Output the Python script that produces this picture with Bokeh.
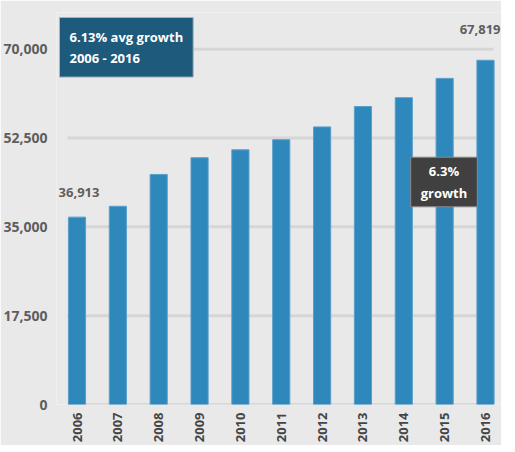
from bokeh.plotting import figure
from bokeh.models import Range1d, Label, FixedTicker, NumeralTickFormatter, ColumnDataSource
from bokeh.embed import file_html
from bokeh.resources import INLINE

years = ["2006", "2007", "2008", "2009", "2010", "2011", "2012", "2013", "2014", "2015", "2016"]
values = [36913, 39050, 45330, 48620, 50180, 52170, 54690, 58710, 60450, 64250, 67819]
y_ticks = [0, 17500, 35000, 52500, 70000]

BG = "#e9e9e9"
FONT = "Open Sans"
PX_X = 40.85                     # pixels per category
Y0 = 404                         # page y of zero
PX_Y = (Y0 - 48.7) / 70000       # pixels per unit value
X0 = 82.5                        # page x of first category centre

xs = list(range(len(years)))
src = ColumnDataSource(dict(x=xs, top=values))

p = figure(frame_width=445, frame_height=392, output_backend="svg", toolbar_location=None,
           x_range=Range1d((62 - X0) / PX_X, (507 - X0) / PX_X),
           y_range=Range1d(0, (Y0 - 12) / PX_Y),
           min_border_left=54, min_border_right=0, min_border_top=12, min_border_bottom=40)
p.background_fill_color = BG
p.border_fill_color = BG
p.outline_line_color = None

# horizontal grid lines, limited to the bar area
grid_src = ColumnDataSource(dict(y=y_ticks))
p.segment(x0=(73 - X0) / PX_X, x1=(499 - X0) / PX_X, y0="y", y1="y", source=grid_src,
          line_color="#d6d6d6", line_width=3, level="underlay")

p.vbar(x="x", top="top", width=0.42, source=src, fill_color="#2e88bc",
       line_color="#5a9fcb", line_width=1)

p.grid.visible = False

p.yaxis.ticker = FixedTicker(ticks=y_ticks)
p.yaxis.formatter = NumeralTickFormatter(format="0,0")
p.yaxis.axis_line_color = None
p.yaxis.major_tick_line_color = None
p.yaxis.minor_tick_line_color = None
p.yaxis.major_tick_out = 0
p.yaxis.major_label_standoff = 9
p.yaxis.major_label_text_font = FONT
p.yaxis.major_label_text_font_size = "14px"
p.yaxis.major_label_text_font_style = "bold"
p.yaxis.major_label_text_color = "#5e5e5e"

p.xaxis.ticker = FixedTicker(ticks=xs)
p.xaxis.major_label_overrides = {i: y for i, y in zip(xs, years)}
p.xaxis.axis_line_color = None
p.xaxis.major_tick_line_color = None
p.xaxis.minor_tick_line_color = None
p.xaxis.major_tick_out = 0
p.xaxis.major_label_orientation = 1.5708
p.xaxis.major_label_standoff = 8
p.xaxis.major_label_text_font = FONT
p.xaxis.major_label_text_font_size = "13px"
p.xaxis.major_label_text_font_style = "bold"
p.xaxis.major_label_text_color = "#454545"

# value labels
p.add_layout(Label(x=0, y=values[0], y_offset=20, x_offset=2, text=f"{values[0]:,}",
                   text_align="center", text_baseline="bottom", text_font=FONT,
                   text_font_size="13px", text_font_style="bold", text_color="#5e5e5e"))
p.add_layout(Label(x=10, y=values[-1], y_offset=26, x_offset=15, text=f"{values[-1]:,}",
                   text_align="right", text_baseline="bottom", text_font=FONT,
                   text_font_size="13px", text_font_style="bold", text_color="#5e5e5e"))

# annotation boxes
p.add_layout(Label(x=(65 - X0) / PX_X, y=(Y0 - 17) / PX_Y, text="6.13% avg growth\n2006 - 2016",
                   text_align="left", text_baseline="top", text_font=FONT,
                   text_font_size="13px", text_font_style="bold", text_color="white",
                   background_fill_color="#1d5a7c", border_line_color="#9fb6c4",
                   border_line_width=1, padding=(10, 10)))
p.add_layout(Label(x=(449.5 - X0) / PX_X, y=(Y0 - 181.5) / PX_Y, text="6.3%\ngrowth",
                   text_align="center", text_baseline="middle", text_font=FONT,
                   text_font_size="13px", text_font_style="bold", text_color="white",
                   background_fill_color="#404040", border_line_color="#8a8a8a",
                   border_line_width=1, padding=(10, 5)))

open("out.html", "w").write(file_html(p, INLINE))
